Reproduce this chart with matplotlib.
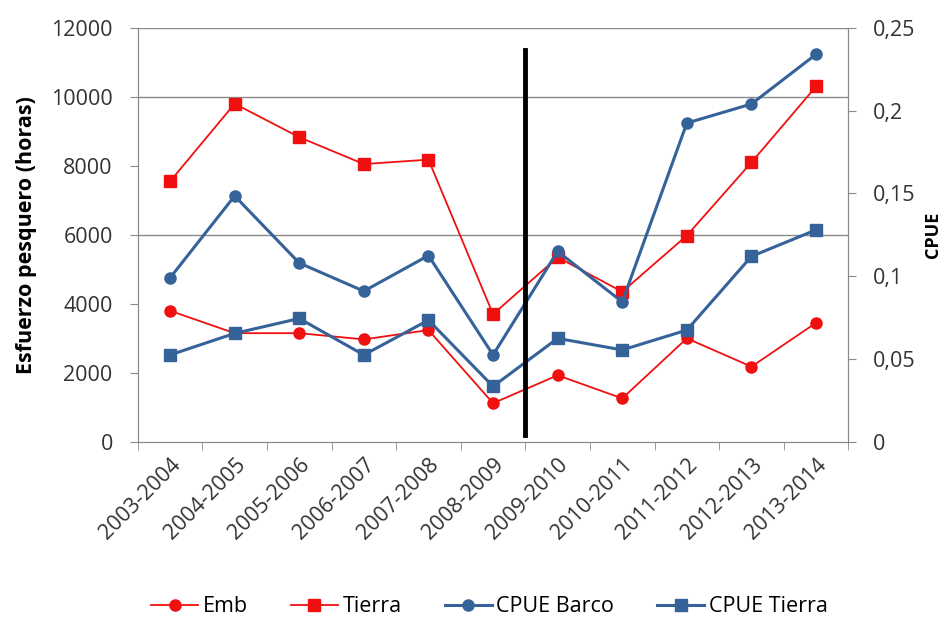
from matplotlib import pyplot as plt
from matplotlib.ticker import FixedLocator, NullFormatter
import numpy as np

plt.rcParams['font.family'] = ['Open Sans', 'DejaVu Sans']

seasons = ['2003-2004', '2004-2005', '2005-2006', '2006-2007', '2007-2008', '2008-2009',
           '2009-2010', '2010-2011', '2011-2012', '2012-2013', '2013-2014']

# esfuerzo pesquero (horas), eje izquierdo
emb = [3800, 3150, 3150, 2970, 3240, 1120, 1930, 1260, 3000, 2180, 3450]
tierra = [7550, 9800, 8830, 8050, 8180, 3700, 5350, 4350, 5980, 8100, 10300]

# CPUE, eje derecho
cpue_barco = [0.099, 0.1485, 0.108, 0.091, 0.1125, 0.0525, 0.115, 0.0845, 0.1925, 0.204, 0.234]
cpue_tierra = [0.0525, 0.0655, 0.0745, 0.0525, 0.0735, 0.0335, 0.0625, 0.0555, 0.0675, 0.112, 0.128]

grid_levels = [6000, 10000, 12000]  # only these gridlines survive in the reference
red = '#F01010'
blue = '#36629A'
grey = '#8A8A8A'
txt = '#333333'

fig = plt.figure(figsize=(9.5, 6.18), dpi=100)
ax = fig.add_axes([0.145, 0.285, 0.748, 0.67])
ax2 = ax.twinx()

x = np.arange(len(seasons))

for lvl in grid_levels:
    ax.axhline(lvl, color=grey, lw=1.0, zorder=0)

l1, = ax.plot(x, emb, color=red, lw=1.3, marker='o', ms=8, label='Emb', zorder=3)
l2, = ax.plot(x, tierra, color=red, lw=1.3, marker='s', ms=8, label='Tierra', zorder=3)
l3, = ax2.plot(x, cpue_barco, color=blue, lw=2.2, marker='o', ms=8, label='CPUE Barco', zorder=3)
l4, = ax2.plot(x, cpue_tierra, color=blue, lw=2.2, marker='s', ms=8, label='CPUE Tierra', zorder=3)

# cambio de periodo
ax2.axvline(5.5, ymin=0.016, ymax=0.947, color='black', lw=3.5, zorder=4)

ax.set_xlim(-0.5, len(seasons) - 0.5)
ax.set_ylim(0, 12000)
ax2.set_ylim(0, 0.25)
ax.set_yticks(np.arange(0, 12001, 2000))
ax2.set_yticks(np.arange(0, 0.251, 0.05))
ax2.set_yticklabels(['0', '0,05', '0,1', '0,15', '0,2', '0,25'])

ax.set_xticks(x)
ax.set_xticklabels(seasons, rotation=45, ha='right', rotation_mode='anchor', fontsize=15.5)
ax.xaxis.set_minor_locator(FixedLocator(np.arange(-0.5, len(seasons), 1)))
ax.xaxis.set_minor_formatter(NullFormatter())
ax.tick_params(axis='x', which='major', length=0, pad=9, colors=txt)
ax.tick_params(axis='x', which='minor', length=6, color=grey, direction='out')
ax.tick_params(axis='y', length=6, color=grey, labelsize=15.5, labelcolor=txt, pad=12)
ax2.tick_params(axis='y', length=6, color=grey, labelsize=15.5, labelcolor=txt, pad=12)

for a in (ax, ax2):
    a.spines['top'].set_visible(False)
    for s in ['left', 'right', 'bottom']:
        a.spines[s].set_color(grey)

ax.set_ylabel('Esfuerzo pesquero (horas)', fontsize=15.5, fontweight='bold', labelpad=10)
ax2.set_ylabel('CPUE', fontsize=13, fontweight='bold', labelpad=6)

fig.legend(handles=[l1, l2, l3, l4], loc='lower center', bbox_to_anchor=(0.515, -0.03),
           ncol=4, frameon=False, fontsize=15.5, handlelength=2.2, columnspacing=2.0,
           handletextpad=0.2)

plt.savefig('out.png', dpi=100)
